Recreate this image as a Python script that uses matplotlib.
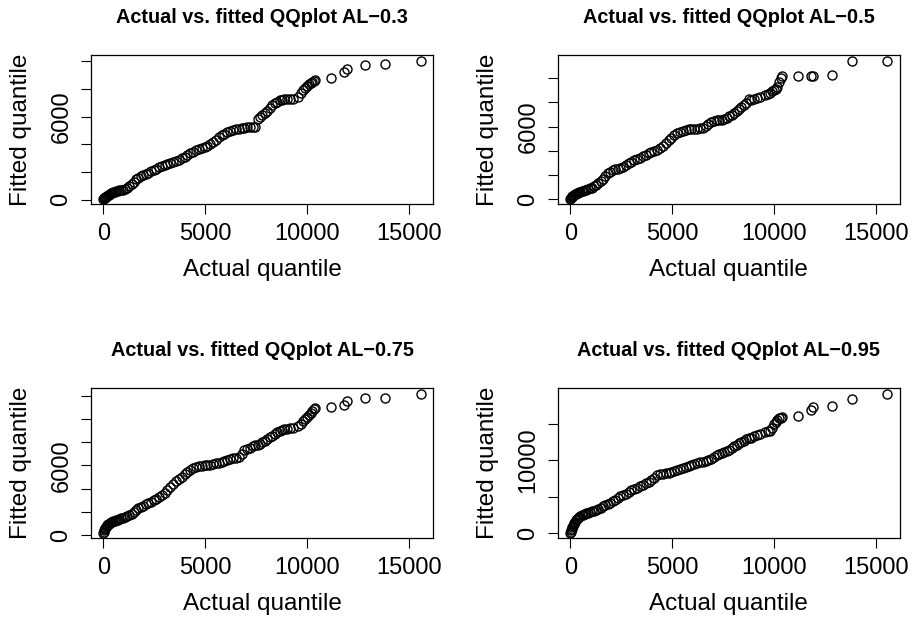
import matplotlib
matplotlib.use("Agg")
import matplotlib.pyplot as plt

# ---------------- data ----------------
actual_q = [
    0, 20, 45, 70, 100, 130, 165, 200, 240, 280,
    330, 380, 430, 490, 550, 620, 700, 780, 870, 960,
    1060, 1160, 1270, 1380, 1490, 1600, 1720, 1840, 1960, 2080,
    2200, 2330, 2460, 2590, 2720, 2860, 3000, 3140, 3280, 3420,
    3560, 3700, 3840, 3980, 4120, 4260, 4400, 4540, 4680, 4820,
    4960, 5100, 5240, 5380, 5520, 5660, 5800, 5940, 6080, 6220,
    6360, 6500, 6640, 6780, 6920, 7060, 7190, 7320, 7440, 7560,
    7680, 7800, 7920, 8040, 8160, 8280, 8400, 8520, 8640, 8760,
    8880, 9000, 9150, 9320, 9560, 9700, 9800, 9900, 10000, 10080,
    10160, 10240, 10320, 10400, 11160, 11810, 11930, 12840, 13810, 15560,
]

fitted_al_03 = [
    60, 90, 120, 150, 190, 220, 250, 280, 320, 360,
    420, 460, 500, 540, 580, 610, 640, 660, 680, 720,
    780, 850, 950, 1100, 1280, 1480, 1600, 1700, 1800, 1880,
    1950, 2050, 2150, 2250, 2330, 2420, 2500, 2580, 2650, 2740,
    2820, 2900, 2990, 3100, 3220, 3350, 3450, 3560, 3650, 3720,
    3790, 3870, 3990, 4150, 4350, 4520, 4650, 4750, 4860, 4960,
    5030, 5090, 5130, 5170, 5200, 5230, 5260, 5290, 5280, 5800,
    5980, 6150, 6300, 6450, 6650, 6850, 7000, 7100, 7180, 7230,
    7260, 7280, 7300, 7320, 7460, 7700, 7950, 8100, 8250, 8350,
    8450, 8550, 8620, 8680, 8795, 9230, 9450, 9780, 9830, 10070,
]

fitted_al_05 = [
    60, 100, 150, 200, 250, 300, 340, 380, 420, 460,
    510, 560, 610, 650, 700, 740, 780, 820, 870, 920,
    980, 1080, 1200, 1350, 1520, 1700, 1900, 2150, 2300, 2400,
    2480, 2550, 2620, 2720, 2850, 2980, 3100, 3220, 3330, 3440,
    3560, 3690, 3800, 3900, 4000, 4100, 4220, 4400, 4650, 4900,
    5100, 5300, 5480, 5600, 5680, 5740, 5780, 5800, 5820, 5840,
    5860, 5920, 6030, 6200, 6350, 6480, 6570, 6590, 6590, 6610,
    6700, 6850, 7000, 7150, 7300, 7450, 7620, 7800, 7980, 8250,
    8220, 8300, 8380, 8440, 8600, 8720, 8820, 8920, 9020, 9100,
    9300, 9700, 10050, 10150, 10150, 10150, 10160, 10290, 11380, 11460,
]

fitted_al_075 = [
    200, 300, 420, 520, 620, 700, 780, 850, 920, 990,
    1060, 1110, 1150, 1190, 1230, 1280, 1330, 1380, 1440, 1500,
    1560, 1620, 1700, 1820, 1980, 2140, 2290, 2400, 2520, 2640,
    2750, 2870, 3000, 3120, 3250, 3420, 3640, 3880, 4130, 4380,
    4640, 4840, 5020, 5260, 5430, 5580, 5760, 5880, 5930, 5960,
    6000, 6040, 6080, 6120, 6170, 6240, 6310, 6400, 6480, 6550,
    6610, 6660, 6760, 6980, 7320, 7420, 7520, 7650, 7720, 7780,
    7880, 8000, 8120, 8260, 8420, 8570, 8720, 8870, 9010, 9060,
    9110, 9150, 9200, 9270, 9420, 9600, 9800, 9980, 10150, 10350,
    10550, 10700, 10850, 10930, 11070, 11220, 11570, 11850, 11850, 12170,
]

fitted_al_095 = [
    80, 250, 450, 650, 850, 1050, 1250, 1420, 1600, 1780,
    1950, 2120, 2280, 2400, 2500, 2580, 2660, 2740, 2820, 2900,
    3000, 3080, 3220, 3380, 3540, 3700, 3860, 4010, 4200, 4400,
    4620, 4880, 5120, 5300, 5460, 5660, 5880, 6080, 6260, 6450,
    6650, 6850, 7070, 7350, 7650, 7950, 8100, 8180, 8240, 8300,
    8400, 8550, 8700, 8870, 9000, 9150, 9280, 9400, 9510, 9620,
    9720, 9800, 9900, 10030, 10200, 10450, 10720, 10880, 11050, 11200,
    11320, 11500, 11720, 11950, 12150, 12380, 12550, 12720, 12880, 13030,
    13150, 13300, 13450, 13620, 13850, 14000, 14100, 14500, 14950, 15300,
    15600, 15800, 15880, 15940, 16060, 16980, 17300, 17430, 18450, 19140,
]

titles = [
    "Actual vs. fitted QQplot AL\u22120.3",
    "Actual vs. fitted QQplot AL\u22120.5",
    "Actual vs. fitted QQplot AL\u22120.75",
    "Actual vs. fitted QQplot AL\u22120.95",
]
x_label = "Actual quantile"
y_label = "Fitted quantile"

x_ticks = [0, 5000, 10000, 15000]
x_tick_labels = ["0", "5000", "10000", "15000"]

y_ticks_small = [0, 2000, 4000, 6000, 8000, 10000, 12000]
y_tick_labels_small = ["0", "", "", "6000", "", "", ""]
y_ticks_large = [0, 5000, 10000, 15000]
y_tick_labels_large = ["0", "", "10000", ""]

# ---------------- figure ----------------
plt.rcParams["font.family"] = ["Liberation Sans", "DejaVu Sans"]

W, H = 916, 621
fig = plt.figure(figsize=(W / 100, H / 100), dpi=100)

def box(l, t, r, b):
    return [l / W, 1 - b / H, (r - l) / W, (b - t) / H]

rects = [
    box(90.7, 55.0, 433.3, 204.3),
    box(557.7, 55.0, 900.0, 204.3),
    box(90.7, 388.3, 433.3, 538.3),
    box(557.7, 388.3, 900.0, 538.3),
]
series = [fitted_al_03, fitted_al_05, fitted_al_075, fitted_al_095]
yticks = [
    (y_ticks_small, y_tick_labels_small),
    (y_ticks_small, y_tick_labels_small),
    (y_ticks_small, y_tick_labels_small),
    (y_ticks_large, y_tick_labels_large),
]

for rect, ys, title, (yt, ytl) in zip(rects, series, titles, yticks):
    ax = fig.add_axes(rect)
    ax.plot(actual_q, ys, linestyle="none", marker="o", markersize=6.5,
            markerfacecolor="none", markeredgecolor="black",
            markeredgewidth=1.0)
    ax.margins(x=0.04, y=0.04)
    ax.set_xticks(x_ticks)
    ax.set_xticklabels(x_tick_labels)
    lo, hi = ax.get_ylim()
    ax.set_yticks(yt)
    ax.set_yticklabels(ytl)
    ax.set_ylim(lo, hi)
    for s in ax.spines.values():
        s.set_linewidth(0.9)
        s.set_color("black")
    ax.tick_params(axis="both", direction="out", length=7.2, width=0.8,
                   color="black", labelsize=17, labelcolor="black")
    ax.tick_params(axis="x", pad=6)
    ax.tick_params(axis="y", pad=6, labelrotation=90)
    for lab in ax.get_yticklabels():
        lab.set_verticalalignment("center")
    ax.set_xlabel(x_label, fontsize=17.5, labelpad=10)
    ax.set_ylabel(y_label, fontsize=17.5, labelpad=13)
    ax.set_title(title, fontsize=14.3, fontweight="bold", pad=23)

fig.savefig("out.png", dpi=100, facecolor="white")
